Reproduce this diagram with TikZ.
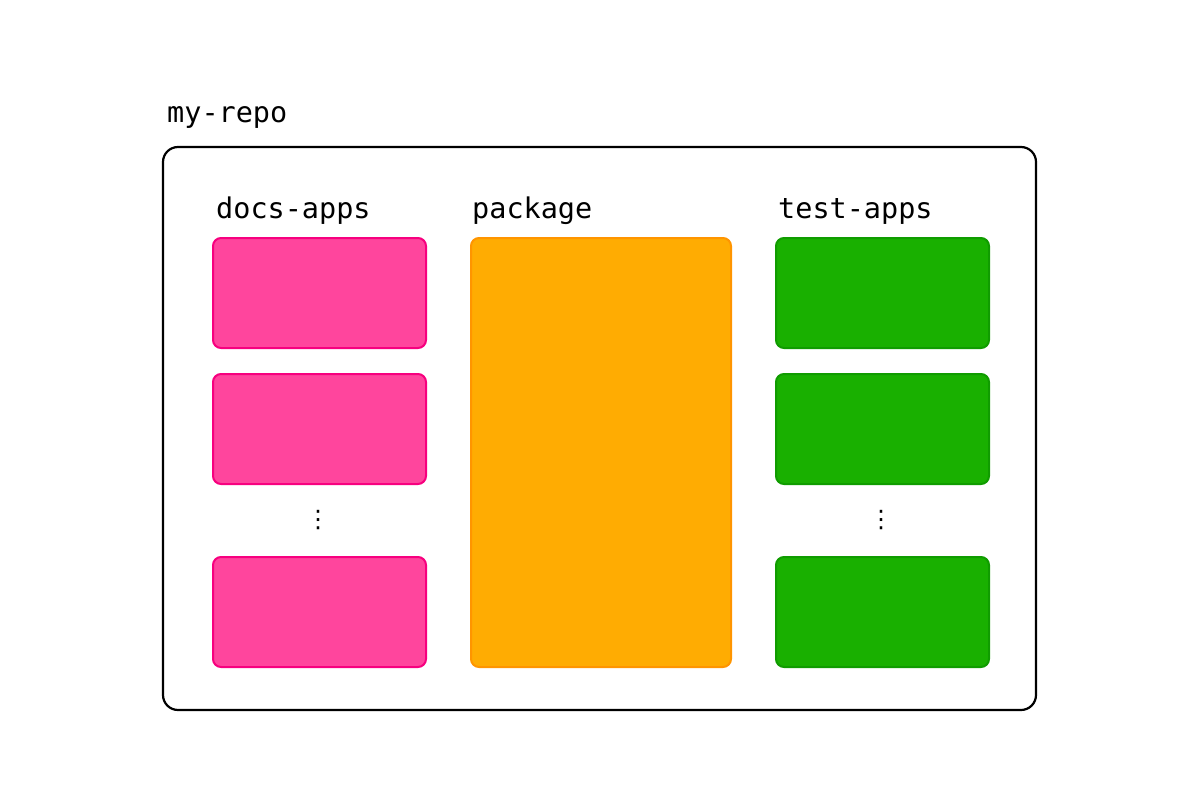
\documentclass[tikz,border=0pt]{standalone}
\usepackage{fontspec}
\setmonofont{DejaVu Sans Mono}
\newfontfamily\symfont{DejaVu Sans}
\usetikzlibrary{positioning}
\definecolor{pinkfill}{HTML}{FF459D}
\definecolor{pinkline}{HTML}{F7007F}
\definecolor{orangefill}{HTML}{FFAC02}
\definecolor{orangeline}{HTML}{FF9500}
\definecolor{greenfill}{HTML}{19B000}
\definecolor{greenline}{HTML}{109C00}
\begin{document}
\begin{tikzpicture}[x=1pt,y=-1pt, line join=round, line cap=round,
	lbl/.style={font=\fontsize{28.5}{30}\selectfont\ttfamily, anchor=west, inner sep=0pt},
	app/.style={draw, line width=2pt, rounded corners=8pt, minimum width=213pt, minimum height=110pt, anchor=north west, inner sep=0pt},
	docs/.style={app, fill=pinkfill, draw=pinkline},
	tests/.style={app, fill=greenfill, draw=greenline},
	dots/.style={font=\fontsize{24}{24}\selectfont\symfont, inner sep=0pt}]
	\useasboundingbox (0,0) rectangle (1200,800);
	% repo
	\draw[line width=2.2pt, rounded corners=15pt] (163,147) rectangle (1036,710);
	\node[lbl] (repo) at (167,117) {my-repo};
	% columns
	\node[lbl] (docslbl) at (216,211) {docs-apps};
	\node[lbl] (pkglbl) at (472,211) {package};
	\node[lbl] (testlbl) at (778,211) {test-apps};
	\node[docs] (d1) at (212,237) {};
	\node[docs] (d2) at (212,373) {};
	\node[docs] (d3) at (212,556) {};
	\node[dots] (ddots) at (318,520) {⋮};
	\node[draw=orangeline, fill=orangefill, line width=2pt, rounded corners=8pt, minimum width=260pt, minimum height=429pt, anchor=north west, inner sep=0pt] (pkg) at (470,237) {};
	\node[tests] (t1) at (775,237) {};
	\node[tests] (t2) at (775,373) {};
	\node[tests] (t3) at (775,556) {};
	\node[dots] (tdots) at (881,520) {⋮};
\end{tikzpicture}
\end{document}
